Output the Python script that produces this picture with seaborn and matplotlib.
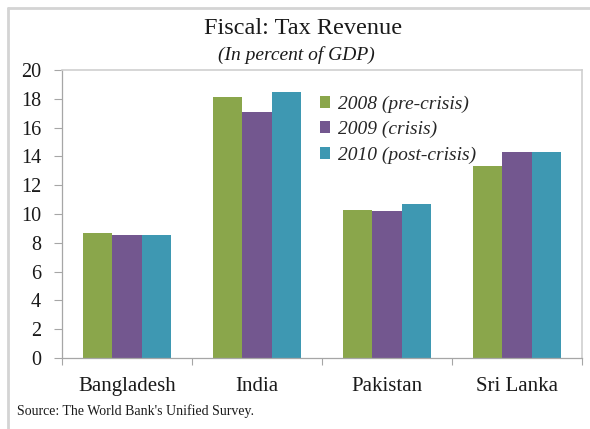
import matplotlib
matplotlib.use("Agg")
import matplotlib.pyplot as plt
from matplotlib.lines import Line2D
from matplotlib.patches import Patch
import seaborn as sns
import pandas as pd

countries = ["Bangladesh", "India", "Pakistan", "Sri Lanka"]
series_names = ["2008 (pre-crisis)", "2009 (crisis)", "2010 (post-crisis)"]
v2008 = [8.7, 18.1, 10.25, 13.3]
v2009 = [8.55, 17.05, 10.2, 14.3]
v2010 = [8.55, 18.5, 10.7, 14.3]
yticks = [0, 2, 4, 6, 8, 10, 12, 14, 16, 18, 20]
colors = ["#8AA64B", "#73578F", "#3E98B2"]

rows = []
for name, vals in zip(series_names, [v2008, v2009, v2010]):
    for c, v in zip(countries, vals):
        rows.append({"Country": c, "Series": name, "Value": v})
df = pd.DataFrame(rows)

sns.set_theme(style="white")
plt.rcParams["font.family"] = ["Liberation Serif", "DejaVu Serif"]

W, H = 590, 429
fig = plt.figure(figsize=(W / 100, H / 100), dpi=100)
ax = fig.add_axes([62 / W, 1 - 358 / H, (582 - 62) / W, (358 - 70) / H])

sns.barplot(data=df, x="Country", y="Value", hue="Series", hue_order=series_names,
            palette=colors, width=0.67, ax=ax, saturation=1, edgecolor="none",
            linewidth=0, legend=False)

ax.set_xlim(-0.5, 3.5)
ax.set_ylim(0, 20)
ax.set_yticks(yticks)
ax.set_yticklabels([str(t) for t in yticks], fontsize=14.5, color="#1a1a1a")
ax.set_xticks(range(len(countries)))
ax.set_xticklabels(countries, fontsize=15, color="#1a1a1a")
ax.set_xticks([-0.5, 0.5, 1.5, 2.5, 3.5], minor=True)
ax.tick_params(axis="x", which="major", length=0, pad=14)
ax.tick_params(axis="x", which="minor", length=5, width=0.8, color="#A6A6A6", direction="out", bottom=True)
ax.tick_params(axis="y", which="major", length=6, width=0.8, color="#A6A6A6", direction="out", left=True, pad=9)
ax.set_xlabel("")
ax.set_ylabel("")
for s in ["left", "bottom"]:
    ax.spines[s].set_color("#A6A6A6")
    ax.spines[s].set_linewidth(0.9)
for s in ["top", "right"]:
    ax.spines[s].set_color("#CFCFCF")
    ax.spines[s].set_linewidth(1.2)

handles = [Patch(facecolor=c, edgecolor="none") for c in colors]
ax.legend(handles, series_names, loc="upper left", bbox_to_anchor=(302 / W, 1 - 78 / H),
          bbox_transform=fig.transFigure, frameon=False, handlelength=0.55, handleheight=0.55,
          handletextpad=0.4, labelspacing=0.42, prop={"family": "Liberation Serif", "style": "italic", "size": 14})

fig.text(303 / W, 1 - 29 / H, "Fiscal: Tax Revenue", ha="center", va="center", fontsize=17.5, color="#1a1a1a")
fig.text(296 / W, 1 - 55 / H, "(In percent of GDP)", ha="center", va="center", fontsize=14,
         style="italic", color="#1a1a1a")
fig.text(17 / W, 1 - 411 / H, "Source: The World Bank's Unified Survey.", ha="left", va="center",
         fontsize=10, color="#1a1a1a")

fig.add_artist(Line2D([8 / W, 1], [1 - 8 / H, 1 - 8 / H], transform=fig.transFigure,
                      color="#D4D4D4", linewidth=2))
fig.add_artist(Line2D([8 / W, 8 / W], [0, 1 - 8 / H], transform=fig.transFigure,
                      color="#D4D4D4", linewidth=2))

fig.savefig("out.png", dpi=100)
